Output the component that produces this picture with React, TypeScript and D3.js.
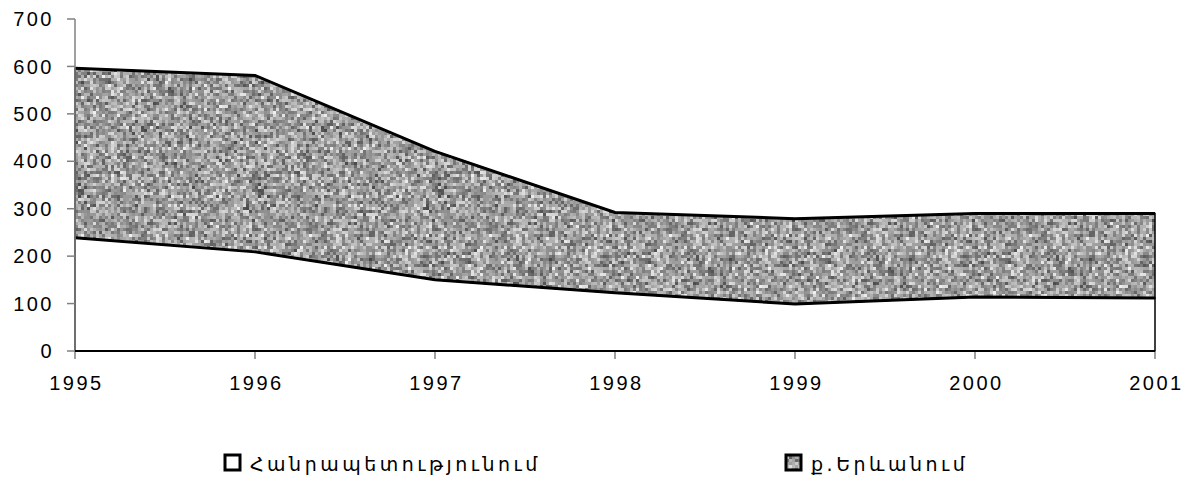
import React, { useEffect, useRef } from 'react';
import * as d3 from 'd3';

const years = [1995, 1996, 1997, 1998, 1999, 2000, 2001];
const republic = [239, 209, 150, 123, 99, 114, 112];
const yerevan = [357, 372, 271, 169, 180, 176, 178];
const yTicks = [0, 100, 200, 300, 400, 500, 600, 700];
const seriesNames = ['Հանրապետությունում', 'ք.Երևանում'];

const W = 1191;
const H = 479;

const App = () => {
    const svgRef = useRef<SVGSVGElement>(null);

    useEffect(() => {
        const svg = d3.select(svgRef.current);
        svg.selectAll('*').remove();

        const x = d3.scaleLinear().domain([1995, 2001]).range([75, 1155]);
        const y = d3.scaleLinear().domain([0, 700]).range([351, 19]);

        // zrnitá šedá textura (deterministická, jen vzhled)
        const defs = svg.append('defs');
        const cell = 3;
        const n = 60;
        const pat = defs.append('pattern')
            .attr('id', 'grain')
            .attr('patternUnits', 'userSpaceOnUse')
            .attr('width', cell * n)
            .attr('height', cell * n);
        let s = 987654321;
        const rnd = () => {
            s |= 0; s = (s + 0x6D2B79F5) | 0;
            let t = Math.imul(s ^ (s >>> 15), 1 | s);
            t = (t + Math.imul(t ^ (t >>> 7), 61 | t)) ^ t;
            return ((t ^ (t >>> 14)) >>> 0) / 4294967296;
        };
        pat.append('rect').attr('width', cell * n).attr('height', cell * n).attr('fill', '#b4b4b4');
        for (let i = 0; i < n; i++) {
            for (let j = 0; j < n; j++) {
                const r = (rnd() + rnd()) / 2;
                const g = Math.round(70 + r * 175);
                pat.append('rect')
                    .attr('x', i * cell).attr('y', j * cell)
                    .attr('width', cell).attr('height', cell)
                    .attr('fill', `rgb(${g},${g},${g})`);
            }
        }

        const data = years.map((yr, i) => ({ year: yr, a: republic[i], b: yerevan[i] }));
        const stack = d3.stack<any>().keys(['a', 'b'])(data);

        const area = d3.area<any>()
            .x(d => x(d.data.year))
            .y0(d => y(d[0]))
            .y1(d => y(d[1]));

        const font = 'Liberation Sans, Arial, sans-serif';

        // osy
        const g = svg.append('g');
        g.append('line')
            .attr('x1', 75).attr('x2', 75)
            .attr('y1', y(0)).attr('y2', y(700))
            .attr('stroke', '#808080').attr('stroke-width', 1.5);

        yTicks.forEach(t => {
            g.append('line')
                .attr('x1', 67).attr('x2', 75)
                .attr('y1', y(t)).attr('y2', y(t))
                .attr('stroke', '#808080').attr('stroke-width', 1.5);
            g.append('text')
                .attr('x', 54).attr('y', y(t)).attr('dy', '0.36em')
                .attr('text-anchor', 'end')
                .attr('font-family', font)
                .attr('font-size', 20)
                .attr('letter-spacing', 2.5)
                .text(t);
        });
        years.forEach(yr => {
            g.append('line')
                .attr('x1', x(yr)).attr('x2', x(yr))
                .attr('y1', y(0)).attr('y2', y(0) + 8)
                .attr('stroke', '#808080').attr('stroke-width', 1.5);
            g.append('text')
                .attr('x', x(yr) + 1.5).attr('y', 390)
                .attr('text-anchor', 'middle')
                .attr('font-family', font)
                .attr('font-size', 20)
                .attr('letter-spacing', 2.5)
                .text(yr);
        });

        // plochy
        svg.append('path')
            .attr('d', area(stack[0]) as string)
            .attr('fill', '#fff')
            .attr('stroke', '#000')
            .attr('stroke-width', 1.5);
        svg.append('path')
            .attr('d', area(stack[1]) as string)
            .attr('fill', 'url(#grain)')
            .attr('stroke', '#000')
            .attr('stroke-width', 1.5);

        const line = d3.line<any>()
            .x(d => x(d.data.year))
            .y(d => y(d[1]));
        stack.forEach(st => {
            svg.append('path')
                .attr('d', line(st) as string)
                .attr('fill', 'none')
                .attr('stroke', '#000')
                .attr('stroke-width', 3);
        });
        g.raise();
        svg.append('line')
            .attr('x1', 75).attr('x2', 1155)
            .attr('y1', y(0)).attr('y2', y(0))
            .attr('stroke', '#000').attr('stroke-width', 2);

        // legenda
        const leg = [
            { x: 225, fill: '#fff' },
            { x: 786, fill: 'url(#grain)' },
        ];
        leg.forEach((l, i) => {
            svg.append('rect')
                .attr('x', l.x).attr('y', 455)
                .attr('width', 15).attr('height', 15)
                .attr('fill', l.fill)
                .attr('stroke', '#000')
                .attr('stroke-width', 3);
            svg.append('text')
                .attr('x', l.x + 25).attr('y', 471)
                .attr('font-family', 'DejaVu Sans, sans-serif')
                .attr('font-size', 19)
                .attr('letter-spacing', 3.5)
                .text(seriesNames[i]);
        });
    }, []);

    return (
        <svg ref={svgRef} width={W} height={H}
            style={{ position: 'absolute', left: 0, top: 0, background: '#fff' }} />
    );
};

export default App;
